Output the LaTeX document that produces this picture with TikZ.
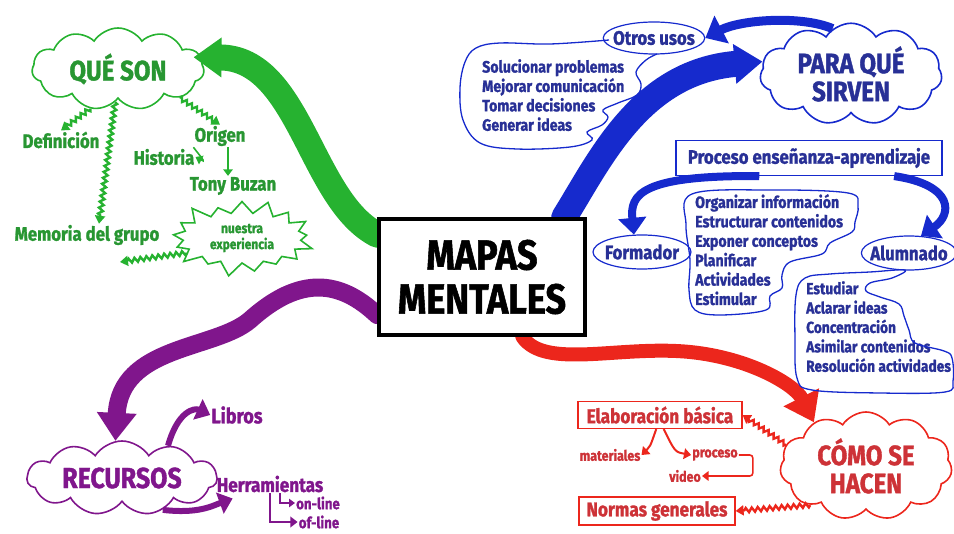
\documentclass[tikz,border=0pt]{standalone}
\usepackage{fontspec}
\setmainfont{Fira Sans}[FakeStretch=0.86, BoldFeatures={FakeBold=1.3}]
\usetikzlibrary{positioning,arrows.meta,shapes.symbols,shapes.geometric,decorations.pathmorphing,backgrounds}
\definecolor{verde}{RGB}{38,178,48}
\definecolor{verdetx}{RGB}{40,150,50}
\definecolor{morado}{RGB}{128,22,140}
\definecolor{azul}{RGB}{22,42,205}
\definecolor{azultx}{RGB}{40,48,150}
\definecolor{rojo}{RGB}{236,38,28}
\definecolor{rojotx}{RGB}{205,50,55}
\tikzset{
  centro/.style={draw, line width=3.5pt, fill=white, minimum width=206pt, minimum height=116pt,
                 align=center, font=\fontsize{42}{44}\selectfont\bfseries},
  nube/.style={cloud, draw, cloud puffs=11, cloud puff arc=115, cloud ignores aspect,
               line width=1.6pt, align=center, inner sep=1pt,
               font=\fontsize{28}{28}\selectfont\bfseries},
  txt/.style={inner sep=1pt, font=\fontsize{#1}{#1}\selectfont\bfseries},
  lista/.style={inner sep=0pt, align=left, anchor=north west,
                font=\fontsize{16.5}{19.4}\selectfont\bfseries},
  caja/.style={draw, line width=1.2pt, inner sep=3pt, font=\fontsize{#1}{#1}\selectfont\bfseries},
  ovalo/.style={ellipse, draw, line width=1.2pt, inner sep=0pt, inner xsep=-5pt,
                font=\fontsize{19.5}{19.5}\selectfont\bfseries},
  banda/.style={line width=#1, line cap=round, -{Triangle[length=28pt,width=38pt]}},
  rayo/.style={decorate, decoration={zigzag, amplitude=2.2pt, segment length=6pt, post length=6pt},
               line width=2.4pt, -{Triangle[length=8pt,width=10pt]}},
  flecha/.style={line width=#1, -{Triangle[length=4pt 1.6, width=5pt 2.8]}},
  bocadillo/.style={draw=azul, line width=1.3pt},
}
\begin{document}
\begin{tikzpicture}[x=1pt,y=-1pt]
  \useasboundingbox (0,0) rectangle (954,534);
  % centro
  \node[centro] (mapas) at (482,277) {MAPAS\\MENTALES};
  % nubes
  \node[nube, draw=verde, text=verdetx, minimum width=172pt, minimum height=82pt] (queson) at (118,69) {QUÉ SON};
  \node[nube, draw=azul, text=azultx, minimum width=182pt, minimum height=90pt] (para) at (851,74) {PARA QUÉ\\SIRVEN};
  \node[nube, draw=rojo, text=rojotx, minimum width=172pt, minimum height=108pt] (como) at (866,466) {CÓMO SE\\HACEN};
  \node[nube, draw=morado, text=morado, minimum width=190pt, minimum height=74pt,
        font=\fontsize{29}{29}\selectfont\bfseries] (recursos) at (122,478) {RECURSOS};

  % ramas gruesas
  \begin{scope}[on background layer]
    \draw[banda=26pt, verde] (mapas.158) .. controls (310,200) and (300,58) .. ([xshift=-8pt]queson.8);
    \draw[banda=26pt, azul] (mapas.36) .. controls (600,160) and (640,72) .. (para.172);
    \draw[banda=18pt, morado] (mapas.200) .. controls (340,280) and (300,275) .. (250,320)
                              .. controls (215,350) and (120,345) .. (recursos.100);
    \draw[banda=14pt, rojo] (mapas.-56) .. controls (545,370) and (620,345) .. (690,352)
                            .. controls (750,358) and (795,385) .. (como.140);
  \end{scope}

  % que son
  \node[txt=19.5, text=verdetx] (def) at (61,140) {Definición};
  \node[txt=19.5, text=verdetx] (origen) at (220,136) {Origen};
  \node[txt=19.5, text=verdetx] (historia) at (164,157) {Historia};
  \node[txt=19.5, text=verdetx] (tony) at (233,186) {Tony Buzan};
  \node[txt=19.5, text=verdetx] (memoria) at (87,235) {Memoria del grupo};
  \node[starburst, draw=verde, line width=1.6pt, text=verdetx, minimum width=150pt, minimum height=82pt,
        starburst point height=16pt, align=center, inner sep=0pt,
        font=\fontsize{14}{16}\selectfont\bfseries] (exper) at (242,238) {nuestra\\experiencia};
  \coordinate (memflecha) at (120,262);
  \draw[rayo, verde] (queson.235) -- (def.north);
  \draw[rayo, verde] (queson.265) -- ([xshift=12pt]memoria.north);
  \draw[rayo, verde] (queson.-25) -- (origen.north);
  \draw[flecha=1.6pt, verde] (origen.south west) .. controls (205,162) .. (historia.east);
  \draw[flecha=1.6pt, verde] ([xshift=8pt]origen.south) -- ([xshift=8pt]origen.south |- tony.north);
  \draw[rayo, verde] (exper.195) -- (memflecha);

  % para que sirven
  \node[ovalo, text=azultx, draw=azul, minimum width=94pt, minimum height=32pt] (otros) at (654,38) {Otros usos};
  \node[lista, text=azultx] (usos) at (482,59) {Solucionar problemas\\Mejorar comunicación\\Tomar decisiones\\Generar ideas};
  \draw[bocadillo] plot[smooth, tension=0.6] coordinates {(609,40) (550,44) (500,43) (476,48) (465,62)
        (460,88) (463,120) (480,143) (517,149) (570,147) (592,140) (587,132) (602,125) (608,117)
        (603,110) (618,103) (637,95) (641,84) (636,72) (646,60) (657,54)};
  \draw[flecha=9pt, azul] (para.112) .. controls (800,15) and (740,20) .. (otros.east);
  \node[caja=19.5, draw=azul, text=azultx, minimum width=266pt, minimum height=35pt] (proceso) at (809,158) {Proceso enseñanza-aprendizaje};
  \node[ovalo, text=azultx, draw=azul, minimum width=98pt, minimum height=34pt] (formador) at (642,252) {Formador};
  \node[ovalo, text=azultx, draw=azul, minimum width=94pt, minimum height=34pt] (alumnado) at (909,253) {Alumnado};
  \draw[flecha=8pt, azul] (proceso.200) .. controls (640,175) and (630,195) .. (formador.115);
  \draw[flecha=8pt, azul] (proceso.-12) .. controls (955,185) and (952,215) .. (alumnado.55);
  \node[lista, text=azultx] (tareas) at (695,194) {Organizar información\\Estructurar contenidos\\Exponer conceptos\\Planificar\\Actividades\\Estimular};
  \draw[bocadillo] plot[smooth cycle, tension=0.6] coordinates {(692,194) (770,190) (848,193) (858,206)
        (855,222) (852,232) (830,243) (822,254) (790,262) (782,275) (782,288) (770,296) (766,310)
        (720,315) (695,310) (689,290) (690,260) (686,225)};
  \node[lista, text=azultx, font=\fontsize{16}{19.4}\selectfont\bfseries] (estudio) at (806,281)
       {Estudiar\\Aclarar ideas\\Concentración\\Asimilar contenidos\\Resolución actividades};
  \draw[bocadillo] plot[smooth cycle, tension=0.6] coordinates {(905,270) (870,272) (830,274) (805,278)
        (796,295) (795,340) (797,378) (812,390) (880,393) (945,392) (953,381) (952,358) (944,351)
        (915,343) (909,330) (904,316) (899,304) (880,297) (866,291) (870,283) (892,278)};

  % como se hacen
  \node[caja=20, draw=rojo, text=rojotx, minimum width=164pt, minimum height=27pt] (elab) at (660,415) {Elaboración básica};
  \node[caja=20, draw=rojo, text=rojotx, minimum width=156pt, minimum height=28pt] (normas) at (657,511) {Normas generales};
  \node[txt=14.5, text=rojotx] (mat) at (610,455) {materiales};
  \node[txt=14.5, text=rojotx] (proc) at (715,455) {proceso};
  \node[txt=14.5, text=rojotx] (video) at (685,476) {video};
  \draw[flecha=2pt, rojo] (elab.255) .. controls (650,447) .. (mat.east);
  \draw[flecha=2pt, rojo] (elab.285) .. controls (675,452) .. (proc.west);
  \draw[flecha=1.6pt, rojo, rounded corners=3pt] (proc.east) -| ([xshift=14pt]proc.east |- video.east) -- (video.east);
  \draw[rayo, rojo] (como.165) -- (elab.east);
  \draw[rayo, rojo] (como.215) -- (normas.east);

  % recursos
  \node[txt=21, text=morado] (libros) at (237,415) {Libros};
  \node[txt=20, text=morado] (herr) at (270,484) {Herramientas};
  \node[txt=15.5, text=morado] (online) at (318,503) {on-line};
  \node[txt=15.5, text=morado] (ofline) at (319,522) {of-line};
  \draw[flecha=6pt, morado] (recursos.35) .. controls (178,410) and (195,408) .. (libros.west);
  \draw[flecha=6pt, morado] (recursos.-38) .. controls (198,514) and (212,506) .. ([xshift=17pt,yshift=-5pt]herr.south west);
  \draw[flecha=2pt, morado] (herr.south) |- (ofline.west);
  \draw[flecha=1.2pt, morado] ([xshift=10pt]herr.south) |- (online.west);
\end{tikzpicture}
\end{document}
